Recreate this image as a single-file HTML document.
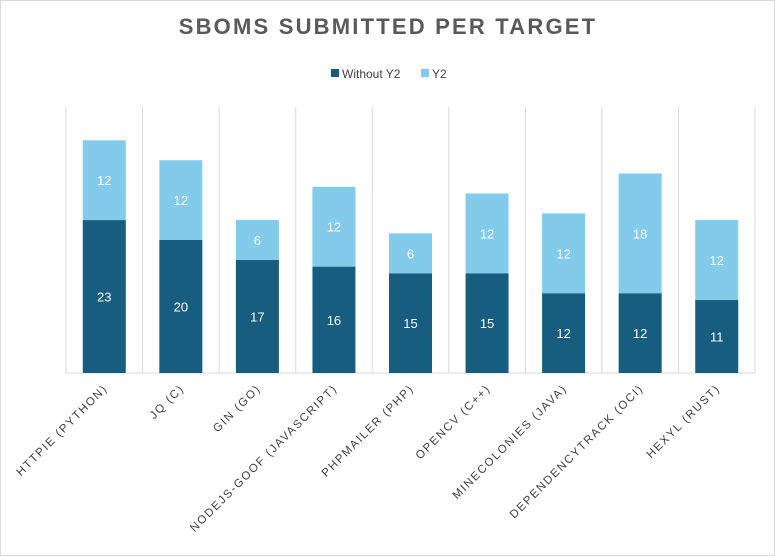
<!DOCTYPE html>
<html><head><meta charset="utf-8"><style>
html,body{margin:0;padding:0;background:#fff}
svg{display:block;font-family:"Liberation Sans",sans-serif}
</style></head><body>
<svg id="chart" width="775" height="556" viewBox="0 0 775 556">
<rect x="0.5" y="0.5" width="774" height="555" fill="#fff" stroke="#d9d9d9"/>
<text x="388" y="34" text-anchor="middle" font-size="22" font-weight="bold" fill="#595959" letter-spacing="2.2">SBOMS SUBMITTED PER TARGET</text>
<g>
<g>
<rect x="331" y="69" width="8" height="8" fill="#175d7f"/>
<text x="342" y="78" font-size="12" fill="#404040">Without Y2</text></g>
<g>
<rect x="421" y="69" width="8" height="8" fill="#83cbeb"/>
<text x="432" y="78" font-size="12" fill="#404040">Y2</text></g>
</g>
<g id="grid"></g><g id="bars"></g><g id="labels"></g>
</svg>
<script>
const categories=["HTTPIE (PYTHON)","JQ (C)","GIN (GO)","NODEJS-GOOF (JAVASCRIPT)","PHPMAILER (PHP)","OPENCV (C++)","MINECOLONIES (JAVA)","DEPENDENCYTRACK (OCI)","HEXYL (RUST)"];
const withoutY2=[23,20,17,16,15,15,12,12,11];
const y2=[12,12,6,12,6,12,12,18,12];
const yMax=40;
const NS="http://www.w3.org/2000/svg";
const plotLeft=66,plotRight=755,plotBase=373,plotTop=107;
const band=(plotRight-plotLeft)/categories.length;
const xPos=i=>plotLeft+band*i;
const yPos=v=>plotBase-(v/yMax)*(plotBase-plotTop);
function mk(t,a,p){const e=document.createElementNS(NS,t);for(const k in a)e.setAttribute(k,a[k]);p.appendChild(e);return e;}
const grid=document.getElementById('grid'),bars=document.getElementById('bars'),labels=document.getElementById('labels');
for(let i=0;i<=categories.length;i++){
 const l=mk('line',{x1:xPos(i),x2:xPos(i),y1:yPos(yMax),y2:plotBase,stroke:'#d9d9d9','stroke-width':1},grid);
 
 
}
const ax=mk('line',{x1:plotLeft,x2:plotRight,y1:plotBase,y2:plotBase,stroke:'#d9d9d9','stroke-width':1},grid);


const bw=43;
categories.forEach((c,i)=>{
 const cx=xPos(i)+band/2;
 const a=withoutY2[i],b=y2[i];
 const r1=mk('rect',{x:cx-bw/2,y:yPos(a),width:bw,height:plotBase-yPos(a),fill:'#175d7f'},bars);
 
 
 const r2=mk('rect',{x:cx-bw/2,y:yPos(a+b),width:bw,height:yPos(a)-yPos(a+b),fill:'#83cbeb'},bars);
 
 
 const t1=mk('text',{x:cx,y:(yPos(a)+plotBase)/2+5,'text-anchor':'middle','font-size':13,fill:'#fff'},bars);
 t1.textContent=a;
 
 
 const t2=mk('text',{x:cx,y:(yPos(a)+yPos(a+b))/2+5,'text-anchor':'middle','font-size':13,fill:'#fff'},bars);
 t2.textContent=b;
 
 
 const lt=mk('text',{x:cx+4,y:plotBase+16,'text-anchor':'end','font-size':11.5,fill:'#404040','letter-spacing':1.6,transform:`rotate(-45 ${cx+4} ${plotBase+16})`},labels);
 lt.textContent=c;
 
 
});
</script>
</body></html>
